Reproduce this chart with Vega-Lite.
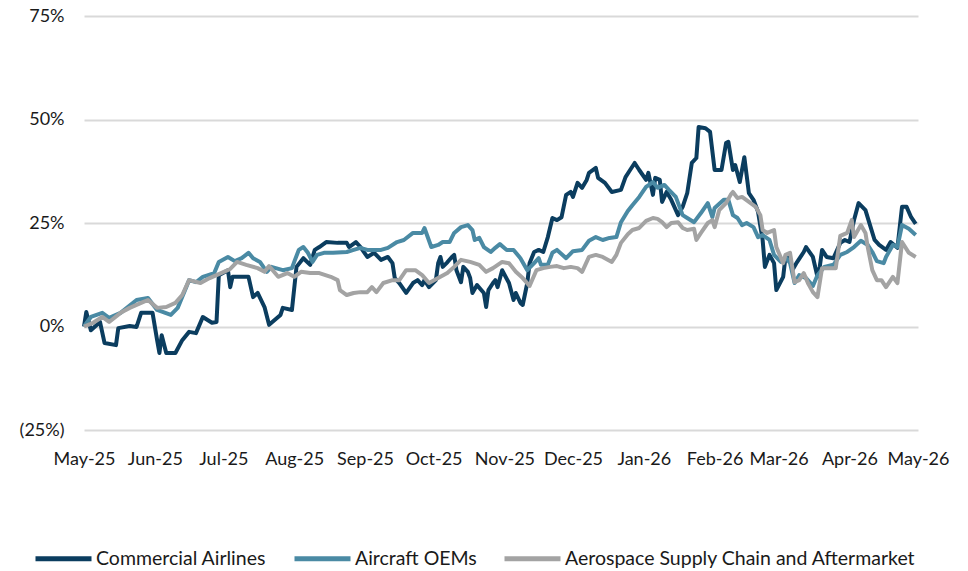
{
  "$schema": "https://vega.github.io/schema/vega-lite/v6.json",
  "width": 834,
  "height": 414,
  "autosize": "none",
  "padding": {"left": 84, "top": 16, "right": 50, "bottom": 141},
  "background": "white",
  "config": {"view": {"stroke": null}, "font": "Lato"},
  "datasets": {
    "airlines": [
      {"date": "2025-05-01", "value": 0}, {"date": "2025-05-02", "value": 3.5}, {"date": "2025-05-04", "value": -0.9}, {"date": "2025-05-08", "value": 1.1},
      {"date": "2025-05-10", "value": -4.0}, {"date": "2025-05-15", "value": -4.5}, {"date": "2025-05-16", "value": -0.4}, {"date": "2025-05-21", "value": 0.1},
      {"date": "2025-05-24", "value": -0.1}, {"date": "2025-05-26", "value": 3.3}, {"date": "2025-05-31", "value": 3.3}, {"date": "2025-06-02", "value": -3.3},
      {"date": "2025-06-03", "value": -6.4}, {"date": "2025-06-04", "value": -2.1}, {"date": "2025-06-06", "value": -6.4}, {"date": "2025-06-10", "value": -6.4},
      {"date": "2025-06-13", "value": -3.3}, {"date": "2025-06-16", "value": -1.3}, {"date": "2025-06-19", "value": -1.6}, {"date": "2025-06-22", "value": 2.3},
      {"date": "2025-06-26", "value": 0.9}, {"date": "2025-06-28", "value": 1.1}, {"date": "2025-06-29", "value": 12.4}, {"date": "2025-07-03", "value": 13.6},
      {"date": "2025-07-04", "value": 9.5}, {"date": "2025-07-05", "value": 12.0}, {"date": "2025-07-12", "value": 12.0}, {"date": "2025-07-14", "value": 7.1},
      {"date": "2025-07-16", "value": 8.1}, {"date": "2025-07-19", "value": 4.7}, {"date": "2025-07-21", "value": 0.4}, {"date": "2025-07-26", "value": 2.8},
      {"date": "2025-07-27", "value": 4.5}, {"date": "2025-07-31", "value": 4.0}, {"date": "2025-08-02", "value": 14.4}, {"date": "2025-08-05", "value": 16.5},
      {"date": "2025-08-08", "value": 14.9}, {"date": "2025-08-10", "value": 18.5}, {"date": "2025-08-12", "value": 19.2}, {"date": "2025-08-15", "value": 20.4},
      {"date": "2025-08-20", "value": 20.2}, {"date": "2025-08-24", "value": 20.2}, {"date": "2025-08-25", "value": 19.2}, {"date": "2025-08-28", "value": 20.4},
      {"date": "2025-08-30", "value": 19.2}, {"date": "2025-09-02", "value": 16.8}, {"date": "2025-09-05", "value": 17.8}, {"date": "2025-09-08", "value": 16.1},
      {"date": "2025-09-11", "value": 16.8}, {"date": "2025-09-13", "value": 15.3}, {"date": "2025-09-14", "value": 11.7}, {"date": "2025-09-16", "value": 10.5},
      {"date": "2025-09-19", "value": 8.1}, {"date": "2025-09-22", "value": 10.5}, {"date": "2025-09-24", "value": 11.2}, {"date": "2025-09-26", "value": 10.0},
      {"date": "2025-09-27", "value": 11.2}, {"date": "2025-09-29", "value": 9.5}, {"date": "2025-10-02", "value": 11.2}, {"date": "2025-10-03", "value": 15.3},
      {"date": "2025-10-04", "value": 16.8}, {"date": "2025-10-05", "value": 14.4}, {"date": "2025-10-07", "value": 15.5}, {"date": "2025-10-09", "value": 16.8},
      {"date": "2025-10-10", "value": 17.3}, {"date": "2025-10-11", "value": 13.6}, {"date": "2025-10-13", "value": 10.7}, {"date": "2025-10-14", "value": 14.4},
      {"date": "2025-10-16", "value": 13.2}, {"date": "2025-10-17", "value": 11.7}, {"date": "2025-10-18", "value": 8.1}, {"date": "2025-10-20", "value": 10.0},
      {"date": "2025-10-23", "value": 8.1}, {"date": "2025-10-24", "value": 4.7}, {"date": "2025-10-25", "value": 8.8}, {"date": "2025-10-27", "value": 10.5},
      {"date": "2025-10-28", "value": 11.2}, {"date": "2025-10-29", "value": 9.5}, {"date": "2025-10-31", "value": 13.6}, {"date": "2025-11-03", "value": 10.5},
      {"date": "2025-11-05", "value": 6.4}, {"date": "2025-11-06", "value": 8.1}, {"date": "2025-11-08", "value": 5.7}, {"date": "2025-11-09", "value": 5.2},
      {"date": "2025-11-11", "value": 10.5}, {"date": "2025-11-12", "value": 15.3}, {"date": "2025-11-14", "value": 18.0}, {"date": "2025-11-16", "value": 18.5},
      {"date": "2025-11-18", "value": 18.0}, {"date": "2025-11-20", "value": 21.6}, {"date": "2025-11-22", "value": 26.2}, {"date": "2025-11-24", "value": 25.7},
      {"date": "2025-11-26", "value": 26.4}, {"date": "2025-11-28", "value": 31.8}, {"date": "2025-11-30", "value": 32.5}, {"date": "2025-12-01", "value": 31.3},
      {"date": "2025-12-03", "value": 34.7}, {"date": "2025-12-05", "value": 33.5}, {"date": "2025-12-07", "value": 35.4}, {"date": "2025-12-08", "value": 37.1},
      {"date": "2025-12-11", "value": 38.3}, {"date": "2025-12-12", "value": 35.9}, {"date": "2025-12-15", "value": 34.7}, {"date": "2025-12-18", "value": 32.5},
      {"date": "2025-12-22", "value": 33.0}, {"date": "2025-12-24", "value": 36.1}, {"date": "2025-12-26", "value": 37.8}, {"date": "2025-12-28", "value": 39.5},
      {"date": "2025-12-30", "value": 37.8}, {"date": "2026-01-02", "value": 35.4}, {"date": "2026-01-03", "value": 37.1}, {"date": "2026-01-05", "value": 31.8},
      {"date": "2026-01-06", "value": 35.9}, {"date": "2026-01-08", "value": 35.4}, {"date": "2026-01-09", "value": 30.1}, {"date": "2026-01-11", "value": 32.5},
      {"date": "2026-01-13", "value": 30.6}, {"date": "2026-01-16", "value": 26.9}, {"date": "2026-01-18", "value": 28.9}, {"date": "2026-01-20", "value": 32.2},
      {"date": "2026-01-22", "value": 39.5}, {"date": "2026-01-24", "value": 40.7}, {"date": "2026-01-25", "value": 48.2}, {"date": "2026-01-28", "value": 47.9},
      {"date": "2026-01-30", "value": 47.0}, {"date": "2026-02-01", "value": 37.8}, {"date": "2026-02-04", "value": 37.8}, {"date": "2026-02-06", "value": 44.3},
      {"date": "2026-02-07", "value": 44.6}, {"date": "2026-02-09", "value": 37.8}, {"date": "2026-02-10", "value": 39.0}, {"date": "2026-02-12", "value": 34.9},
      {"date": "2026-02-14", "value": 40.9}, {"date": "2026-02-16", "value": 32.2}, {"date": "2026-02-18", "value": 30.6}, {"date": "2026-02-20", "value": 27.7},
      {"date": "2026-02-22", "value": 20.9}, {"date": "2026-02-23", "value": 14.4}, {"date": "2026-02-25", "value": 17.3}, {"date": "2026-02-27", "value": 15.3},
      {"date": "2026-02-28", "value": 8.8}, {"date": "2026-03-03", "value": 12.0}, {"date": "2026-03-04", "value": 16.8}, {"date": "2026-03-06", "value": 16.5},
      {"date": "2026-03-07", "value": 13.6}, {"date": "2026-03-09", "value": 15.5}, {"date": "2026-03-12", "value": 18.0}, {"date": "2026-03-13", "value": 19.2},
      {"date": "2026-03-16", "value": 16.8}, {"date": "2026-03-18", "value": 12.0}, {"date": "2026-03-19", "value": 14.4}, {"date": "2026-03-20", "value": 18.5},
      {"date": "2026-03-22", "value": 16.8}, {"date": "2026-03-25", "value": 16.5}, {"date": "2026-03-28", "value": 20.2}, {"date": "2026-03-30", "value": 20.9},
      {"date": "2026-04-01", "value": 20.4}, {"date": "2026-04-03", "value": 25.7}, {"date": "2026-04-05", "value": 29.8}, {"date": "2026-04-08", "value": 28.1},
      {"date": "2026-04-10", "value": 24.5}, {"date": "2026-04-12", "value": 20.9}, {"date": "2026-04-14", "value": 19.7}, {"date": "2026-04-17", "value": 18.5},
      {"date": "2026-04-19", "value": 20.4}, {"date": "2026-04-22", "value": 19.0}, {"date": "2026-04-24", "value": 28.9}, {"date": "2026-04-26", "value": 28.9},
      {"date": "2026-04-28", "value": 26.4}, {"date": "2026-04-30", "value": 24.8}
    ],
    "oems": [
      {"date": "2025-05-01", "value": 0}, {"date": "2025-05-04", "value": 2.3}, {"date": "2025-05-09", "value": 3.3}, {"date": "2025-05-12", "value": 2.1},
      {"date": "2025-05-17", "value": 3.3}, {"date": "2025-05-24", "value": 6.4}, {"date": "2025-05-29", "value": 6.9}, {"date": "2025-06-02", "value": 4.0},
      {"date": "2025-06-08", "value": 2.8}, {"date": "2025-06-11", "value": 4.5}, {"date": "2025-06-16", "value": 11.2}, {"date": "2025-06-19", "value": 10.7},
      {"date": "2025-06-22", "value": 12.0}, {"date": "2025-06-27", "value": 12.9}, {"date": "2025-06-29", "value": 15.6}, {"date": "2025-07-03", "value": 16.8},
      {"date": "2025-07-06", "value": 15.8}, {"date": "2025-07-09", "value": 16.5}, {"date": "2025-07-12", "value": 17.8}, {"date": "2025-07-14", "value": 16.5},
      {"date": "2025-07-17", "value": 15.6}, {"date": "2025-07-20", "value": 13.2}, {"date": "2025-07-22", "value": 14.4}, {"date": "2025-07-27", "value": 13.6},
      {"date": "2025-07-31", "value": 14.1}, {"date": "2025-08-01", "value": 15.6}, {"date": "2025-08-03", "value": 18.5}, {"date": "2025-08-05", "value": 19.2},
      {"date": "2025-08-07", "value": 17.8}, {"date": "2025-08-09", "value": 15.6}, {"date": "2025-08-11", "value": 17.3}, {"date": "2025-08-14", "value": 17.8},
      {"date": "2025-08-18", "value": 17.8}, {"date": "2025-08-24", "value": 18.0}, {"date": "2025-08-27", "value": 18.5}, {"date": "2025-08-30", "value": 19.0},
      {"date": "2025-09-02", "value": 18.5}, {"date": "2025-09-08", "value": 18.5}, {"date": "2025-09-11", "value": 19.0}, {"date": "2025-09-15", "value": 20.4},
      {"date": "2025-09-18", "value": 20.9}, {"date": "2025-09-22", "value": 22.6}, {"date": "2025-09-26", "value": 22.6}, {"date": "2025-09-27", "value": 23.8},
      {"date": "2025-09-30", "value": 19.2}, {"date": "2025-10-03", "value": 19.7}, {"date": "2025-10-05", "value": 20.4}, {"date": "2025-10-08", "value": 20.4},
      {"date": "2025-10-10", "value": 22.6}, {"date": "2025-10-13", "value": 24.0}, {"date": "2025-10-16", "value": 24.5}, {"date": "2025-10-18", "value": 23.3},
      {"date": "2025-10-19", "value": 20.9}, {"date": "2025-10-21", "value": 21.4}, {"date": "2025-10-23", "value": 19.2}, {"date": "2025-10-26", "value": 18.0},
      {"date": "2025-10-28", "value": 19.0}, {"date": "2025-10-30", "value": 19.9}, {"date": "2025-11-02", "value": 18.5}, {"date": "2025-11-05", "value": 18.5},
      {"date": "2025-11-08", "value": 16.5}, {"date": "2025-11-11", "value": 13.6}, {"date": "2025-11-14", "value": 15.3}, {"date": "2025-11-16", "value": 16.5},
      {"date": "2025-11-17", "value": 14.9}, {"date": "2025-11-20", "value": 14.9}, {"date": "2025-11-22", "value": 17.8}, {"date": "2025-11-24", "value": 18.5},
      {"date": "2025-11-28", "value": 16.5}, {"date": "2025-12-01", "value": 18.2}, {"date": "2025-12-05", "value": 18.5}, {"date": "2025-12-08", "value": 20.7},
      {"date": "2025-12-11", "value": 21.6}, {"date": "2025-12-14", "value": 20.9}, {"date": "2025-12-17", "value": 21.4}, {"date": "2025-12-20", "value": 21.6},
      {"date": "2025-12-22", "value": 25.2}, {"date": "2025-12-25", "value": 27.9}, {"date": "2025-12-27", "value": 29.3}, {"date": "2025-12-30", "value": 31.3},
      {"date": "2026-01-02", "value": 33.7}, {"date": "2026-01-05", "value": 34.9}, {"date": "2026-01-07", "value": 33.5}, {"date": "2026-01-10", "value": 34.2},
      {"date": "2026-01-12", "value": 33.0}, {"date": "2026-01-15", "value": 31.3}, {"date": "2026-01-18", "value": 26.9}, {"date": "2026-01-20", "value": 26.2},
      {"date": "2026-01-23", "value": 25.2}, {"date": "2026-01-26", "value": 27.4}, {"date": "2026-01-29", "value": 29.8}, {"date": "2026-01-31", "value": 26.4},
      {"date": "2026-02-01", "value": 28.6}, {"date": "2026-02-05", "value": 30.6}, {"date": "2026-02-07", "value": 30.6}, {"date": "2026-02-09", "value": 26.9},
      {"date": "2026-02-11", "value": 26.2}, {"date": "2026-02-13", "value": 24.5}, {"date": "2026-02-15", "value": 25.0}, {"date": "2026-02-18", "value": 24.0},
      {"date": "2026-02-20", "value": 21.6}, {"date": "2026-02-22", "value": 22.1}, {"date": "2026-02-25", "value": 20.9}, {"date": "2026-02-27", "value": 17.3},
      {"date": "2026-03-02", "value": 15.6}, {"date": "2026-03-04", "value": 16.8}, {"date": "2026-03-06", "value": 15.3}, {"date": "2026-03-08", "value": 10.5},
      {"date": "2026-03-10", "value": 12.4}, {"date": "2026-03-13", "value": 11.7}, {"date": "2026-03-16", "value": 9.8}, {"date": "2026-03-18", "value": 12.4},
      {"date": "2026-03-21", "value": 14.4}, {"date": "2026-03-25", "value": 14.9}, {"date": "2026-03-28", "value": 17.3}, {"date": "2026-03-31", "value": 18.0},
      {"date": "2026-04-03", "value": 19.2}, {"date": "2026-04-06", "value": 20.7}, {"date": "2026-04-09", "value": 19.7}, {"date": "2026-04-11", "value": 18.0},
      {"date": "2026-04-13", "value": 15.8}, {"date": "2026-04-16", "value": 15.3}, {"date": "2026-04-17", "value": 16.8}, {"date": "2026-04-20", "value": 19.7},
      {"date": "2026-04-22", "value": 19.2}, {"date": "2026-04-24", "value": 24.5}, {"date": "2026-04-27", "value": 23.6}, {"date": "2026-04-30", "value": 22.1}
    ],
    "supply": [
      {"date": "2025-05-01", "value": 0}, {"date": "2025-05-05", "value": 0.9}, {"date": "2025-05-09", "value": 2.3}, {"date": "2025-05-12", "value": 1.1},
      {"date": "2025-05-17", "value": 3.3}, {"date": "2025-05-21", "value": 4.5}, {"date": "2025-05-26", "value": 5.7}, {"date": "2025-05-29", "value": 6.4},
      {"date": "2025-06-02", "value": 4.5}, {"date": "2025-06-06", "value": 4.7}, {"date": "2025-06-10", "value": 5.7}, {"date": "2025-06-13", "value": 7.6},
      {"date": "2025-06-16", "value": 11.2}, {"date": "2025-06-21", "value": 10.5}, {"date": "2025-06-25", "value": 11.7}, {"date": "2025-06-30", "value": 12.9},
      {"date": "2025-07-04", "value": 13.9}, {"date": "2025-07-07", "value": 15.6}, {"date": "2025-07-11", "value": 14.9}, {"date": "2025-07-16", "value": 14.1},
      {"date": "2025-07-19", "value": 13.2}, {"date": "2025-07-21", "value": 14.6}, {"date": "2025-07-25", "value": 12.0}, {"date": "2025-07-29", "value": 12.9},
      {"date": "2025-08-01", "value": 12.0}, {"date": "2025-08-04", "value": 13.2}, {"date": "2025-08-08", "value": 12.9}, {"date": "2025-08-12", "value": 12.9},
      {"date": "2025-08-17", "value": 12.0}, {"date": "2025-08-20", "value": 11.2}, {"date": "2025-08-21", "value": 8.8}, {"date": "2025-08-24", "value": 7.6},
      {"date": "2025-08-27", "value": 8.1}, {"date": "2025-08-30", "value": 8.3}, {"date": "2025-09-02", "value": 8.3}, {"date": "2025-09-04", "value": 9.5},
      {"date": "2025-09-06", "value": 8.3}, {"date": "2025-09-09", "value": 10.5}, {"date": "2025-09-13", "value": 11.2}, {"date": "2025-09-16", "value": 11.2},
      {"date": "2025-09-19", "value": 13.6}, {"date": "2025-09-23", "value": 13.6}, {"date": "2025-09-26", "value": 12.4}, {"date": "2025-09-29", "value": 10.5},
      {"date": "2025-10-03", "value": 11.7}, {"date": "2025-10-07", "value": 12.9}, {"date": "2025-10-10", "value": 14.4}, {"date": "2025-10-13", "value": 16.1},
      {"date": "2025-10-17", "value": 15.6}, {"date": "2025-10-21", "value": 14.9}, {"date": "2025-10-24", "value": 13.2}, {"date": "2025-10-27", "value": 14.1},
      {"date": "2025-10-31", "value": 15.6}, {"date": "2025-11-03", "value": 15.3}, {"date": "2025-11-06", "value": 13.2}, {"date": "2025-11-09", "value": 11.7},
      {"date": "2025-11-12", "value": 9.8}, {"date": "2025-11-15", "value": 13.6}, {"date": "2025-11-18", "value": 14.1}, {"date": "2025-11-21", "value": 14.4},
      {"date": "2025-11-24", "value": 14.6}, {"date": "2025-11-27", "value": 14.1}, {"date": "2025-11-30", "value": 14.4}, {"date": "2025-12-03", "value": 14.1},
      {"date": "2025-12-05", "value": 13.2}, {"date": "2025-12-08", "value": 16.8}, {"date": "2025-12-11", "value": 17.3}, {"date": "2025-12-14", "value": 16.8},
      {"date": "2025-12-18", "value": 15.6}, {"date": "2025-12-20", "value": 17.3}, {"date": "2025-12-22", "value": 20.2}, {"date": "2025-12-25", "value": 22.3},
      {"date": "2025-12-27", "value": 23.3}, {"date": "2025-12-30", "value": 23.8}, {"date": "2026-01-02", "value": 25.5}, {"date": "2026-01-05", "value": 26.2},
      {"date": "2026-01-07", "value": 26.0}, {"date": "2026-01-09", "value": 25.2}, {"date": "2026-01-11", "value": 24.0}, {"date": "2026-01-13", "value": 25.0},
      {"date": "2026-01-16", "value": 25.2}, {"date": "2026-01-18", "value": 23.8}, {"date": "2026-01-20", "value": 23.3}, {"date": "2026-01-23", "value": 23.6},
      {"date": "2026-01-24", "value": 20.9}, {"date": "2026-01-26", "value": 22.6}, {"date": "2026-01-29", "value": 25.0}, {"date": "2026-01-31", "value": 25.7},
      {"date": "2026-02-01", "value": 24.0}, {"date": "2026-02-03", "value": 28.1}, {"date": "2026-02-06", "value": 29.8}, {"date": "2026-02-08", "value": 31.8},
      {"date": "2026-02-09", "value": 32.5}, {"date": "2026-02-11", "value": 31.0}, {"date": "2026-02-13", "value": 31.3}, {"date": "2026-02-16", "value": 30.1},
      {"date": "2026-02-19", "value": 28.9}, {"date": "2026-02-21", "value": 26.9}, {"date": "2026-02-22", "value": 23.3}, {"date": "2026-02-24", "value": 22.6},
      {"date": "2026-02-27", "value": 23.3}, {"date": "2026-02-28", "value": 19.2}, {"date": "2026-03-03", "value": 15.3}, {"date": "2026-03-04", "value": 17.3},
      {"date": "2026-03-06", "value": 17.8}, {"date": "2026-03-08", "value": 10.7}, {"date": "2026-03-10", "value": 11.2}, {"date": "2026-03-12", "value": 12.9},
      {"date": "2026-03-14", "value": 10.3}, {"date": "2026-03-16", "value": 8.3}, {"date": "2026-03-18", "value": 7.1}, {"date": "2026-03-20", "value": 14.1},
      {"date": "2026-03-23", "value": 14.1}, {"date": "2026-03-26", "value": 14.1}, {"date": "2026-03-28", "value": 21.9}, {"date": "2026-03-31", "value": 22.6},
      {"date": "2026-04-02", "value": 25.7}, {"date": "2026-04-03", "value": 21.6}, {"date": "2026-04-06", "value": 24.5}, {"date": "2026-04-08", "value": 22.6},
      {"date": "2026-04-09", "value": 19.2}, {"date": "2026-04-11", "value": 13.6}, {"date": "2026-04-13", "value": 11.2}, {"date": "2026-04-15", "value": 11.2},
      {"date": "2026-04-17", "value": 9.5}, {"date": "2026-04-20", "value": 12.0}, {"date": "2026-04-22", "value": 10.5}, {"date": "2026-04-24", "value": 20.4},
      {"date": "2026-04-27", "value": 17.8}, {"date": "2026-04-30", "value": 16.8}
    ]
  },
  "encoding": {
    "x": {
      "field": "date",
      "type": "temporal",
      "scale": {"type": "utc", "domain": [{"year": 2025, "month": 5, "date": 1, "utc": true}, {"year": 2026, "month": 5, "date": 1, "utc": true}]},
      "axis": {
        "title": null,
        "labelExpr": "utcFormat(datum.value, '%b-%y')",
        "tickCount": {"interval": "month", "step": 1},
        "grid": false,
        "domain": false,
        "ticks": false,
        "labelPadding": 20,
        "labelFontSize": 18,
        "labelColor": "#1a1a1a",
        "labelAngle": 0,
        "labelOverlap": false,
        "labelFlush": false
      }
    },
    "y": {
      "field": "value",
      "type": "quantitative",
      "scale": {"domain": [-25, 75], "nice": false, "zero": false},
      "axis": {
        "title": null,
        "values": [-25, 0, 25, 50, 75],
        "labelExpr": "datum.value < 0 ? '(' + abs(datum.value) + '%)' : datum.value + '%'",
        "grid": true,
        "gridColor": "#d9d9d9",
        "gridWidth": 2,
        "domain": false,
        "ticks": false,
        "labelPadding": 20,
        "labelFontSize": 18,
        "labelColor": "#1a1a1a"
      }
    }
  },
  "layer": [
    {
      "data": {"name": "airlines"},
      "mark": {"type": "line", "strokeWidth": 4, "strokeJoin": "round"},
      "encoding": {
        "color": {
          "datum": "Commercial Airlines",
          "scale": {
            "domain": ["Commercial Airlines", "Aircraft OEMs", "Aerospace Supply Chain and Aftermarket"],
            "range": ["#0b3d5f", "#4a8aa4", "#a3a3a3"]
          },
          "legend": {
            "title": null,
            "orient": "none",
            "legendX": -51,
            "legendY": 512,
            "direction": "horizontal",
            "symbolType": "stroke",
            "symbolSize": 3136,
            "symbolStrokeWidth": 5,
            "labelFontSize": 19.5,
            "labelColor": "#1a1a1a",
            "labelLimit": 0,
            "labelOffset": 2,
            "columnPadding": 17
          }
        }
      }
    },
    {
      "data": {"name": "oems"},
      "mark": {"type": "line", "strokeWidth": 4, "strokeJoin": "round"},
      "encoding": {"color": {"datum": "Aircraft OEMs"}}
    },
    {
      "data": {"name": "supply"},
      "mark": {"type": "line", "strokeWidth": 4, "strokeJoin": "round"},
      "encoding": {"color": {"datum": "Aerospace Supply Chain and Aftermarket"}}
    }
  ]
}
